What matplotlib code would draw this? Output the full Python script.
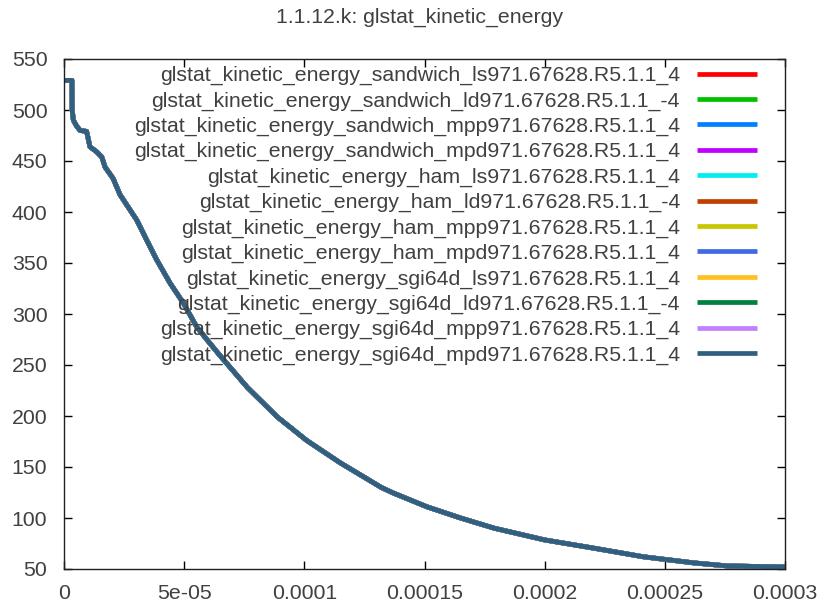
import numpy as np
import matplotlib
matplotlib.use('Agg')
from matplotlib import pyplot as plt

plt.rcParams['font.family'] = ['Liberation Sans', 'DejaVu Sans']

# time (s) and kinetic energy
time = [0.0, 3.3e-6, 3.4e-6, 3.9e-6, 5.3e-6, 6.7e-6, 9.4e-6, 1.08e-5, 1.36e-5,
        1.57e-5, 1.71e-5, 2.04e-5, 2.33e-5, 3.03e-5, 3.44e-5, 3.86e-5, 4.42e-5,
        4.96e-5, 5.53e-5, 6.08e-5, 6.5e-5, 7.63e-5, 8.88e-5, 1.01e-4, 1.15e-4,
        1.32e-4, 1.37e-4, 1.51e-4, 1.65e-4, 1.79e-4, 2.0e-4, 2.2e-4, 2.41e-4,
        2.62e-4, 2.76e-4, 3.0e-4]
energy = [529, 529, 500, 490, 484, 480, 479, 464, 459,
          454, 444, 433, 417, 392, 372.5, 353, 330,
          311, 287, 271, 259, 228, 199, 176, 154,
          130, 124.5, 111, 100, 90, 78.5, 70.6, 62,
          56, 53, 52]

series_labels = [
    'glstat_kinetic_energy_sandwich_ls971.67628.R5.1.1_4',
    'glstat_kinetic_energy_sandwich_ld971.67628.R5.1.1_-4',
    'glstat_kinetic_energy_sandwich_mpp971.67628.R5.1.1_4',
    'glstat_kinetic_energy_sandwich_mpd971.67628.R5.1.1_4',
    'glstat_kinetic_energy_ham_ls971.67628.R5.1.1_4',
    'glstat_kinetic_energy_ham_ld971.67628.R5.1.1_-4',
    'glstat_kinetic_energy_ham_mpp971.67628.R5.1.1_4',
    'glstat_kinetic_energy_ham_mpd971.67628.R5.1.1_4',
    'glstat_kinetic_energy_sgi64d_ls971.67628.R5.1.1_4',
    'glstat_kinetic_energy_sgi64d_ld971.67628.R5.1.1_-4',
    'glstat_kinetic_energy_sgi64d_mpp971.67628.R5.1.1_4',
    'glstat_kinetic_energy_sgi64d_mpd971.67628.R5.1.1_4',
]
series_colors = ['#ff0000', '#00c000', '#0080ff', '#c000ff', '#00eeee', '#c04000',
                 '#c8c800', '#4169e1', '#ffc020', '#008040', '#c080ff', '#306080']

x_ticks = [0, 5e-05, 0.0001, 0.00015, 0.0002, 0.00025, 0.0003]
x_tick_labels = ['0', '5e-05', '0.0001', '0.00015', '0.0002', '0.00025', '0.0003']
y_ticks = [50, 100, 150, 200, 250, 300, 350, 400, 450, 500, 550]

text_col = '#404040'
fs = 15.3

fig = plt.figure(figsize=(8.17, 6.10), dpi=100)
ax = fig.add_axes([64 / 817, 1 - 569 / 610, 721 / 817, 510 / 610])

for lbl, col in zip(series_labels, series_colors):
    ax.plot(time, energy, color=col, lw=3.4, label=lbl, solid_capstyle='butt')

ax.set_xlim(0, 0.0003)
ax.set_ylim(50, 550)
ax.set_xticks(x_ticks)
ax.set_xticklabels(x_tick_labels)
ax.set_yticks(y_ticks)
ax.tick_params(direction='in', top=True, right=True, length=6, width=1,
               labelsize=fs, labelcolor=text_col)
ax.tick_params(axis='y', pad=12)
ax.tick_params(axis='x', pad=11)
for sp in ax.spines.values():
    sp.set_color('#202020')
    sp.set_linewidth(1)

fig.text(419 / 817, 1 - 17 / 610, '1.1.12.k: glstat_kinetic_energy', fontsize=fs,
         color=text_col, ha='center', va='center')

leg = ax.legend(loc='upper right', frameon=False, markerfirst=False, fontsize=fs,
                handlelength=2.82, handletextpad=0.8, labelspacing=0.29,
                borderpad=0, borderaxespad=0,
                bbox_to_anchor=(757 / 817, 1 - 66 / 610),
                bbox_transform=fig.transFigure)
for t in leg.get_texts():
    t.set_color(text_col)
    t.set_ha('right')
leg._legend_box.align = 'right'
for vp in leg._legend_handle_box.get_children():
    vp.align = 'right'

fig.savefig('out.png', dpi=100)
